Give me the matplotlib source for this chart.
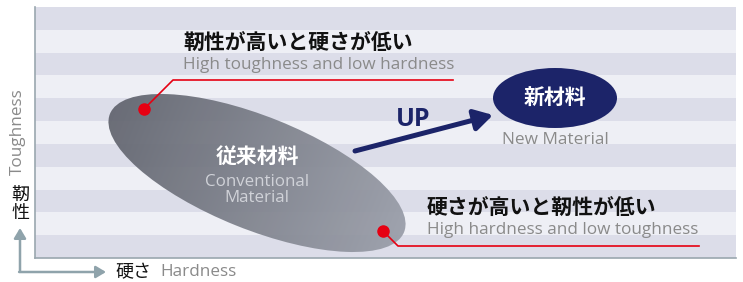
import numpy as np
import matplotlib.pyplot as plt
from matplotlib.patches import Ellipse, FancyArrowPatch, Rectangle

plt.rcParams['font.family'] = ['Noto Sans CJK JP', 'DejaVu Sans']

# --- chart content (plot units = pixels from lower-left corner of the plot area) ---
materials = ["従来材料", "新材料"]
materials_en = ["Conventional\nMaterial", "New Material"]
hardness = [222, 520]
toughness = [85, 160]
spread_w = [317, 124]
spread_h = [113, 60]
spread_angle = [-21.9, 0]

callout_jp = ["靭性が高いと硬さが低い", "硬さが高いと靭性が低い"]
callout_en = ["High toughness and low hardness", "High hardness and low toughness"]
callout_dot = [(109, 149), (348, 27)]
callout_elbow = [(138, 178), (363, 12)]
callout_end = [418, 664]
callout_text = [(148, 215), (392, 50)]

n_bands = 11
PLOT_W, PLOT_H = 701, 251

NAVY = '#1c2469'
RED = '#e60012'
GREY_TXT = '#8a8a8a'
AXIS_C = '#8fa3ab'
EN_FONT = ['Open Sans', 'DejaVu Sans']

fig = plt.figure(figsize=(7.43, 2.82), dpi=100)
ax = fig.add_axes([35 / 743, 24 / 282, PLOT_W / 743, PLOT_H / 282])
ax.set_xlim(0, PLOT_W)
ax.set_ylim(0, PLOT_H)
ax.set_xticks([])
ax.set_yticks([])
for s in ['top', 'right']:
    ax.spines[s].set_visible(False)
for s in ['left', 'bottom']:
    ax.spines[s].set_color('#9aa7af')
    ax.spines[s].set_linewidth(1.2)

# striped background
band_h = PLOT_H / n_bands
for i in range(n_bands):
    c = '#dcdde9' if i % 2 == 0 else '#eeeff5'
    ax.add_patch(Rectangle((0, i * band_h), PLOT_W, band_h, color=c, lw=0, zorder=0))

# conventional material: gradient ellipse
cx, cy = hardness[0], toughness[0]
ell = Ellipse((cx, cy), spread_w[0], spread_h[0], angle=spread_angle[0],
              facecolor='none', edgecolor='none')
ax.add_patch(ell)
xs = np.linspace(cx - 160, cx + 160, 320)
ys = np.linspace(cy - 90, cy + 90, 180)
X, Y = np.meshgrid(xs, ys)
th = np.deg2rad(spread_angle[0])
proj = ((X - cx) * np.cos(th) + (Y - cy) * np.sin(th)) / 160
grad = (proj + 1) / 2
c0 = np.array([98, 101, 111]) / 255
c1 = np.array([154, 158, 169]) / 255
img = c0 + (c1 - c0) * grad[..., None]
im = ax.imshow(img, extent=(xs[0], xs[-1], ys[0], ys[-1]), origin='lower',
               alpha=0.94, zorder=2, aspect='auto')
im.set_clip_path(ell)
ax.text(cx, cy + 17, materials[0], color='white', fontsize=15, fontweight='bold',
        ha='center', va='center', zorder=5)
ax.text(cx, cy - 17, materials_en[0], color='#d0d2d8', fontsize=12.2, family=EN_FONT,
        ha='center', va='center', linespacing=1.0, zorder=5)

# new material
nx, ny = hardness[1], toughness[1]
ax.add_patch(Ellipse((nx, ny), spread_w[1], spread_h[1], color=NAVY, lw=0, zorder=3))
ax.text(nx, ny, materials[1], color='white', fontsize=15, fontweight='bold',
        ha='center', va='center', zorder=5)
ax.text(nx, ny - 42, materials_en[1], color=GREY_TXT, fontsize=12.4, family=EN_FONT,
        ha='center', va='center', zorder=5)

# UP arrow
ax.add_patch(FancyArrowPatch((320, 107), (458, 143),
                             arrowstyle='-|>,head_length=0.55,head_width=0.32',
                             mutation_scale=20, color=NAVY, lw=3.6,
                             shrinkA=0, shrinkB=0, zorder=4))
ax.text(378, 139, 'UP', color=NAVY, fontsize=18, fontweight='bold',
        family=EN_FONT, ha='center', va='center')

# callouts
for jp, en, dot, elb, xend, tp in zip(callout_jp, callout_en, callout_dot,
                                      callout_elbow, callout_end, callout_text):
    ax.plot([dot[0], elb[0], xend], [dot[1], elb[1], elb[1]], color=RED, lw=1.2,
            zorder=6, clip_on=False)
    ax.plot(dot[0], dot[1], 'o', color=RED, ms=8, zorder=7)
    ax.text(tp[0], tp[1], jp, color='#111111', fontsize=15, fontweight='bold',
            ha='left', va='center', zorder=6)
    ax.text(tp[0], tp[1] - 22, en, color=GREY_TXT, fontsize=12.3, family=EN_FONT,
            ha='left', va='center', zorder=6)

# axis arrows and labels (outside the plot area)
ox, oy = -15, -14
ax.add_patch(FancyArrowPatch((ox, oy + 0.5), (ox, 30), arrowstyle='-|>,head_length=0.5,head_width=0.3',
                             mutation_scale=12, color=AXIS_C, lw=1.8,
                             shrinkA=0, shrinkB=0, clip_on=False))
ax.add_patch(FancyArrowPatch((ox - 0.9, oy), (71, oy), arrowstyle='-|>,head_length=0.5,head_width=0.3',
                             mutation_scale=12, color=AXIS_C, lw=1.8,
                             shrinkA=0, shrinkB=0, clip_on=False))
ax.text(-17, 126, 'Toughness', color=GREY_TXT, fontsize=12.3, family=EN_FONT,
        rotation=90, ha='center', va='center', clip_on=False)
ax.text(-15, 54, '靭\n性', color='#111111', fontsize=13, ha='center', va='center',
        linespacing=1.0, clip_on=False)
ax.text(80, oy, '硬さ', color='#111111', fontsize=13, ha='left', va='center',
        clip_on=False)
ax.text(125, oy, 'Hardness', color=GREY_TXT, fontsize=12.3, family=EN_FONT,
        ha='left', va='center', clip_on=False)

fig.savefig('out.png', dpi=100)
